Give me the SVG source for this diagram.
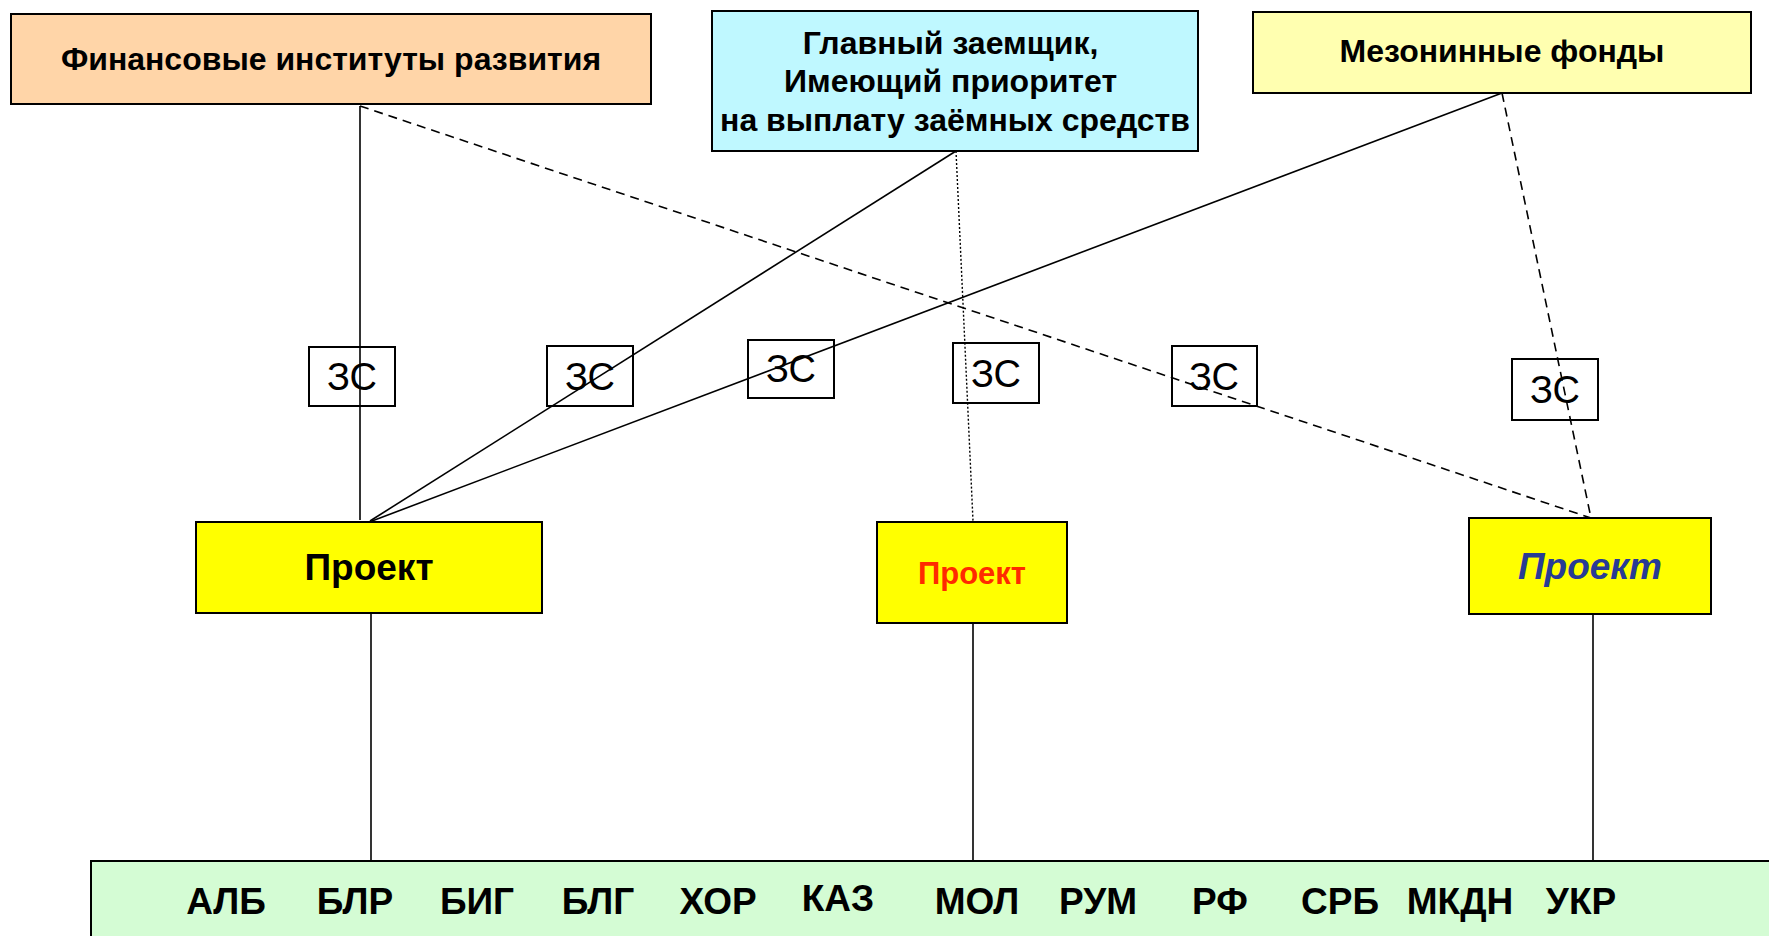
<svg xmlns="http://www.w3.org/2000/svg" width="1769" height="936" viewBox="0 0 1769 936">
  <style>
    .box { stroke: #000; stroke-width: 2; }
    .zs { fill: none; stroke: #000; stroke-width: 2; }
    .t { font-family: "Liberation Sans", Arial, sans-serif; font-weight: bold; text-anchor: middle; fill: #000; }
    .zst { font-family: "Liberation Sans", Arial, sans-serif; font-size: 38px; text-anchor: middle; fill: #000; }
    .c { font-family: "Liberation Sans", Arial, sans-serif; font-weight: bold; font-size: 37px; text-anchor: middle; fill: #000; }
    .solid { stroke: #000; stroke-width: 1.6; fill: none; }
    .dash { stroke: #000; stroke-width: 1.6; fill: none; stroke-dasharray: 9 6; }
    .dot { stroke: #000; stroke-width: 1.4; fill: none; stroke-dasharray: 2 2; }
  </style>

  <rect width="1769" height="936" fill="#fff"/>

  <!-- connectors -->
  <g id="connectors">
    <line class="solid" x1="360" y1="106" x2="360" y2="520"/>
    <line class="dash" x1="360" y1="106" x2="1591" y2="518"/>
    <line class="solid" x1="956" y1="151" x2="370" y2="521"/>
    <line class="dot" x1="956" y1="151" x2="973" y2="521"/>
    <line class="solid" x1="1502" y1="93" x2="372" y2="521"/>
    <line class="dash" x1="1502" y1="93" x2="1591" y2="518"/>
    <line class="solid" x1="371" y1="613" x2="371" y2="861"/>
    <line class="solid" x1="973" y1="623" x2="973" y2="861"/>
    <line class="solid" x1="1593" y1="614" x2="1593" y2="861"/>
  </g>

  <!-- top-level sources -->
  <g id="fin-institutes">
    <rect class="box" x="11" y="14" width="640" height="90" fill="#FFD5A8"/>
    <text class="t" x="331" y="70" font-size="32">Финансовые институты развития</text>
  </g>
  <g id="main-borrower">
    <rect class="box" x="712" y="11" width="486" height="140" fill="#BFF8FF"/>
    <text class="t" font-size="32">
      <tspan x="955" y="54">Главный заемщик,</tspan>
      <tspan x="955" y="92">Имеющий приоритет</tspan>
      <tspan x="955" y="131">на выплату заёмных средств</tspan>
    </text>
  </g>
  <g id="mezzanine">
    <rect class="box" x="1253" y="12" width="498" height="81" fill="#FFFFB0"/>
    <text class="t" x="1502" y="62" font-size="32">Мезонинные фонды</text>
  </g>

  <!-- ЗС labels -->
  <g id="zs1"><rect class="zs" x="309" y="347" width="86" height="59"/><text class="zst" x="352" y="390">ЗС</text></g>
  <g id="zs2"><rect class="zs" x="547" y="346" width="86" height="60"/><text class="zst" x="590" y="390">ЗС</text></g>
  <g id="zs3"><rect class="zs" x="748" y="340" width="86" height="58"/><text class="zst" x="791" y="382">ЗС</text></g>
  <g id="zs4"><rect class="zs" x="953" y="343" width="86" height="60"/><text class="zst" x="996" y="387">ЗС</text></g>
  <g id="zs5"><rect class="zs" x="1172" y="346" width="85" height="60"/><text class="zst" x="1214" y="390">ЗС</text></g>
  <g id="zs6"><rect class="zs" x="1512" y="359" width="86" height="61"/><text class="zst" x="1555" y="403">ЗС</text></g>

  <!-- projects -->
  <g id="project1">
    <rect class="box" x="196" y="522" width="346" height="91" fill="#FFFF00"/>
    <text class="t" x="369" y="580" font-size="37">Проект</text>
  </g>
  <g id="project2">
    <rect class="box" x="877" y="522" width="190" height="101" fill="#FFFF00"/>
    <text class="t" x="972" y="584" font-size="31" style="fill:#FF2A00">Проект</text>
  </g>
  <g id="project3">
    <rect class="box" x="1469" y="518" width="242" height="96" fill="#FFFF00"/>
    <text class="t" x="1590" y="579" font-size="37" font-style="italic" style="fill:#283B95">Проект</text>
  </g>

  <!-- countries -->
  <g id="countries">
    <rect class="box" x="91" y="861" width="1690" height="90" fill="#D4FCD4"/>
    <g transform="translate(0 914)">
      <text class="c" x="226" y="0">АЛБ</text>
      <text class="c" x="355" y="0">БЛР</text>
      <text class="c" x="477" y="0">БИГ</text>
      <text class="c" x="598" y="0">БЛГ</text>
      <text class="c" x="718" y="0">ХОР</text>
      <text class="c" x="838" y="-3">КАЗ</text>
      <text class="c" x="977" y="0">МОЛ</text>
      <text class="c" x="1098" y="0">РУМ</text>
      <text class="c" x="1220" y="0">РФ</text>
      <text class="c" x="1340" y="0">СРБ</text>
      <text class="c" x="1460" y="0">МКДН</text>
      <text class="c" x="1581" y="0">УКР</text>
    </g>
  </g>
</svg>
